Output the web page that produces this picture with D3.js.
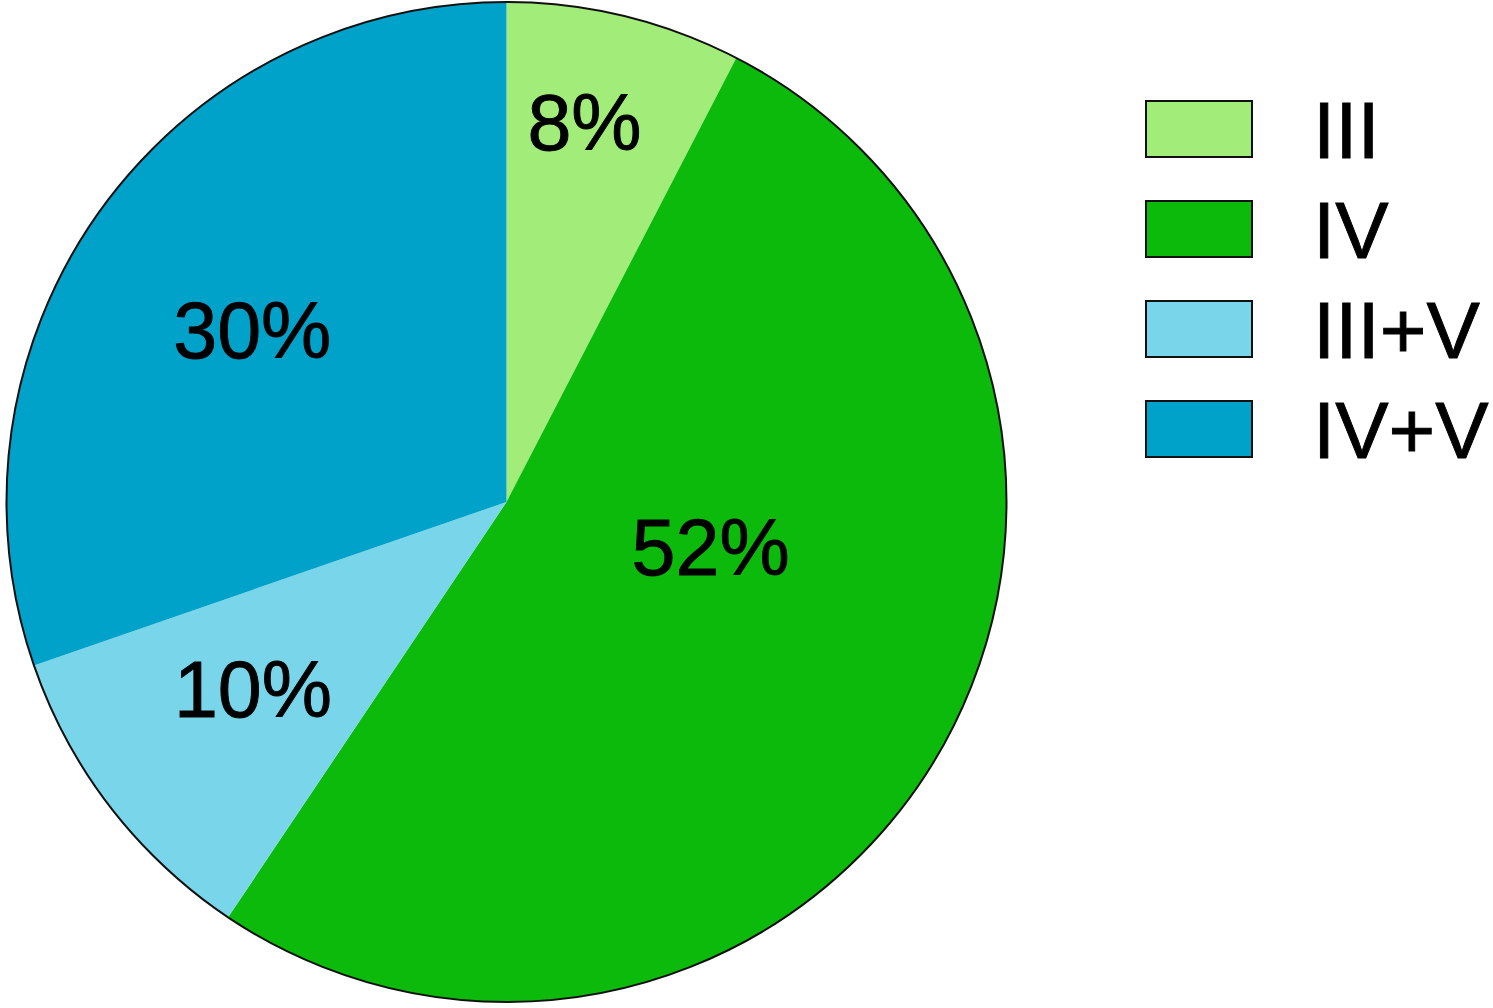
<!DOCTYPE html>
<html><head><meta charset="utf-8">
<script src="https://cdn.jsdelivr.net/npm/d3@7"></script>
<style>html,body{margin:0;padding:0;background:#fff;}svg{display:block;}</style>
</head><body>
<svg id="chart" width="1493" height="1008"></svg>
<script>
const categories = ["III", "IV", "III+V", "IV+V"];
const values = [7.6, 51.8, 10.3, 30.3];
const labels = ["8%", "52%", "10%", "30%"];
const colors = ["#a2ed7a", "#0bba0b", "#79d6ea", "#00a2c9"];
// label placement: [angle in degrees clockwise from top, distance from centre]
const labelPlacement = [[11.6, 388], [102.4, 209], [233.6, 315], [304.1, 307]];

const svg = d3.select("#chart");
const cx = 506.5, cy = 502, r = 500;
const font = "Arial, 'Liberation Sans', Helvetica, sans-serif";

const data = categories.map((c, i) => ({cat: c, value: values[i], label: labels[i], color: colors[i], lp: labelPlacement[i]}));
const pie = d3.pie().sort(null).value(d => d.value);
const arc = d3.arc().innerRadius(0).outerRadius(r);

const g = svg.append("g").attr("transform", `translate(${cx},${cy})`);
g.selectAll("path.slice").data(pie(data)).join("path")
  .attr("class", "slice")
  .attr("d", arc)
  .attr("fill", d => d.data.color);
g.append("circle").attr("r", r).attr("fill", "none").attr("stroke", "#111").attr("stroke-width", 2);

g.selectAll("text.lbl").data(pie(data)).join("text")
  .attr("class", "lbl")
  .attr("x", d => Math.sin(d.data.lp[0] * Math.PI / 180) * d.data.lp[1])
  .attr("y", d => -Math.cos(d.data.lp[0] * Math.PI / 180) * d.data.lp[1])
  .attr("dy", "0.36em")
  .attr("text-anchor", "middle")
  .attr("font-family", font)
  .attr("font-size", 79)
  .attr("fill", "#000").attr("stroke", "#000").attr("stroke-width", 0.9)
  .text(d => d.data.label);

const legend = svg.append("g").attr("transform", "translate(1146,101)");
const item = legend.selectAll("g").data(data).join("g")
  .attr("transform", (d, i) => `translate(0,${i * 100})`);
item.append("rect").attr("width", 106).attr("height", 56)
  .attr("fill", d => d.color).attr("stroke", "#111").attr("stroke-width", 2);
item.append("text").attr("x", 167).attr("y", 57)
  .attr("font-family", font).attr("font-size", 80).attr("fill", "#000")
  .attr("stroke", "#000").attr("stroke-width", 0.9)
  .text(d => d.cat);
</script>
</body></html>
